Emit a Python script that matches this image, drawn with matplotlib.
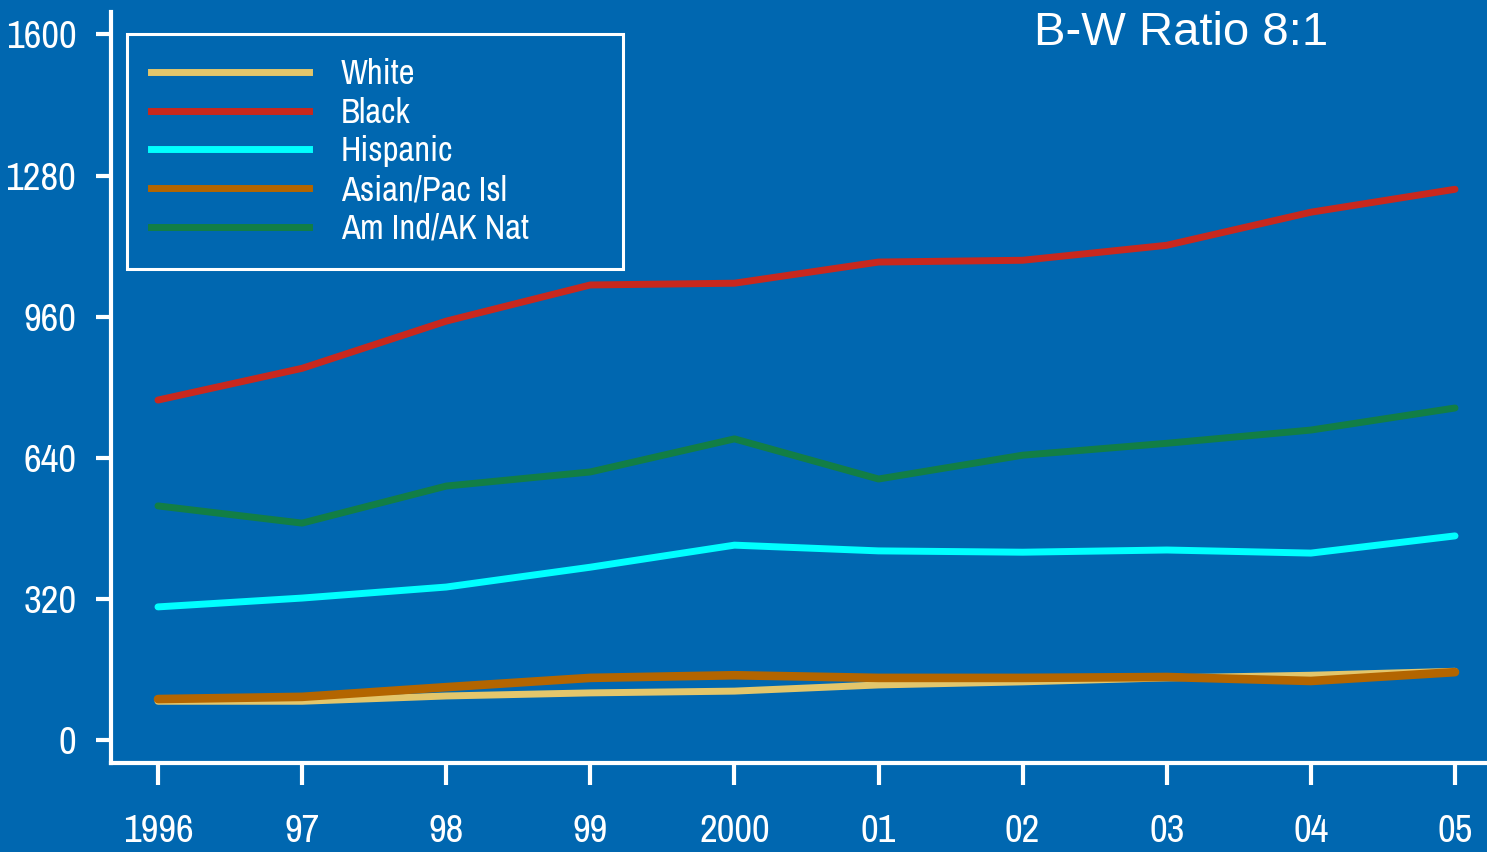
import matplotlib
matplotlib.use("Agg")
import matplotlib.pyplot as plt
from matplotlib.lines import Line2D

years = [1996, 1997, 1998, 1999, 2000, 2001, 2002, 2003, 2004, 2005]
year_labels = ["1996", "97", "98", "99", "2000", "01", "02", "03", "04", "05"]
y_ticks = [0, 320, 640, 960, 1280, 1600]

white = [88, 88, 100, 107, 111, 125, 132, 141, 147, 156]
black = [771, 843, 950, 1032, 1036, 1084, 1088, 1122, 1197, 1249]
hispanic = [302, 322, 347, 392, 442, 429, 426, 431, 424, 463]
asian = [93, 98, 120, 141, 147, 141, 141, 143, 134, 154]
am_ind = [531, 492, 576, 608, 683, 592, 646, 673, 703, 753]

series = [
    ("White", white, "#E3C66B", 5.0),
    ("Black", black, "#C8281E", 5.0),
    ("Hispanic", hispanic, "#00FFFF", 5.0),
    ("Asian/Pac Isl", asian, "#B36500", 6.2),
    ("Am Ind/AK Nat", am_ind, "#127E45", 5.0),
]

BG = "#0067B0"
narrow = ["Liberation Sans Narrow", "Arial Narrow", "Archivo Narrow", "PT Sans Narrow",
          "Roboto Condensed", "IBM Plex Sans Condensed", "DejaVu Sans"]

W, H = 1487, 852
fig = plt.figure(figsize=(W / 100, H / 100), dpi=100, facecolor=BG)
ax = fig.add_axes([111 / W, (H - 763) / H, 1 - 111 / W, (763 - 12) / H])
ax.set_facecolor(BG)

# Asian line goes on top so it covers White where the two meet
draw_order = [0, 1, 2, 4, 3]
for i in draw_order:
    name, vals, color, lw = series[i]
    ax.plot(years, vals, color=color, lw=lw, solid_capstyle="round",
            solid_joinstyle="round", label=name, zorder=3)

ax.set_xlim(1995.674, 2005.222)
ax.set_ylim(-52, 1651)

ax.set_xticks(years)
ax.set_xticklabels(year_labels, family=narrow, fontsize=28, color="white")
ax.set_yticks(y_ticks)
ax.set_yticklabels([str(v) for v in y_ticks], family=narrow, fontsize=28, color="white")
ax.tick_params(axis="x", direction="out", length=16, width=3, color="white", pad=21)
ax.tick_params(axis="y", direction="out", length=11, width=3, color="white", pad=14)

for side in ("top", "right"):
    ax.spines[side].set_visible(False)
for side in ("left", "bottom"):
    ax.spines[side].set_color("white")
    ax.spines[side].set_linewidth(3)

# legend box spans x 127..623, y 34..275 (pixels from top-left)
ax_w, ax_h = W - 111, 763 - 12
bx0 = (127 - 111) / ax_w
bw = (623 - 127) / ax_w
by0 = (763 - 275) / ax_h
bh = (275 - 34) / ax_h

legend_handles = [Line2D([], [], color=c, lw=5.0) for _, _, c, _ in series]
leg = ax.legend(legend_handles, [s[0] for s in series],
                loc="upper left", bbox_to_anchor=(bx0, by0, bw, bh), mode="expand",
                frameon=True, fancybox=False, handlelength=4.55, handletextpad=0.9,
                labelspacing=0.19, borderpad=0.7, borderaxespad=0,
                prop={"family": narrow, "size": 25})
leg.get_frame().set_facecolor(BG)
leg.get_frame().set_edgecolor("white")
leg.get_frame().set_linewidth(2.2)
leg.get_frame().set_alpha(1)
for t in leg.get_texts():
    t.set_color("white")

fig.text(1181 / W, 1 - 33 / H, "B-W Ratio 8:1", family=["Liberation Sans", "DejaVu Sans"],
         fontsize=34, color="white", ha="center", va="center")

fig.savefig("out.png", dpi=100, facecolor=BG)
